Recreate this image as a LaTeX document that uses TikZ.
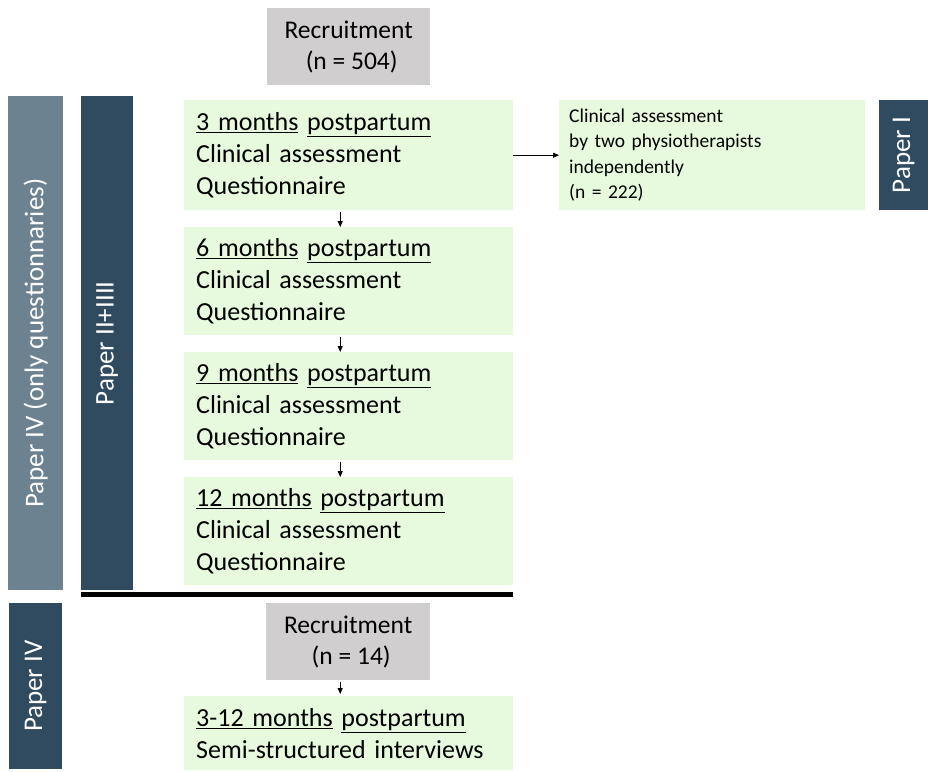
\documentclass[tikz,border=0pt]{standalone}
\usepackage{fontspec}
\setmainfont{Carlito}
\usetikzlibrary{arrows.meta}
\definecolor{grayb}{HTML}{D0CECE}
\definecolor{greenb}{HTML}{E8FADE}
\definecolor{darkb}{HTML}{304B5F}
\definecolor{slateb}{HTML}{6D8290}
\tikzset{
  recbox/.style={fill=grayb, draw=none, anchor=north west, align=center, inner sep=0pt, font=\fontsize{25.5}{31}\selectfont},
  greenbox/.style={fill=greenb, draw=none, anchor=north west, align=left, inner xsep=12pt, inner ysep=0pt, font=\fontsize{26}{32}\selectfont},
  smallbox/.style={fill=greenb, draw=none, anchor=north west, align=left, inner xsep=10pt, inner ysep=0pt, font=\fontsize{19.5}{25.3}\selectfont},
  bar/.style={draw=none, anchor=north west, inner sep=0pt},
  bartext/.style={text=white, rotate=90, font=\fontsize{27}{30}\selectfont},
  arr/.style={-{Triangle[length=6pt,width=5pt]}, line width=0.8pt},
}
\begin{document}
\begin{tikzpicture}[x=1pt,y=-1pt]
\useasboundingbox (0,0) rectangle (928,771);
% recruitment top
\node[recbox, minimum width=163pt, minimum height=77pt] (rec1) at (267,8) {Recruitment\\ \hspace{6pt}(n = 504)};
% left bars
\node[bar, fill=slateb, minimum width=55pt, minimum height=494pt] (bar1) at (8,96) {};
\node[bartext] at (bar1.center) {Paper IV (only questionnaries)};
\node[bar, fill=darkb, minimum width=52pt, minimum height=494pt] (bar2) at (81,96) {};
\node[bartext] at (bar2.center) {Paper II+IIII};
% green boxes
\node[greenbox, minimum width=329pt, minimum height=110pt, text width=305pt] (m3) at (184,100) {\underline{3 months} \underline{postpartum}\\ Clinical assessment\\ Questionnaire};
\node[greenbox, minimum width=329pt, minimum height=108pt, text width=305pt] (m6) at (184,227) {\underline{6 months} \underline{postpartum}\\ Clinical assessment\\ Questionnaire};
\node[greenbox, minimum width=329pt, minimum height=108pt, text width=305pt] (m9) at (184,352) {\underline{9 months} \underline{postpartum}\\ Clinical assessment\\ Questionnaire};
\node[greenbox, minimum width=329pt, minimum height=108pt, text width=305pt] (m12) at (184,477) {\underline{12 months} \underline{postpartum}\\ Clinical assessment\\ Questionnaire};
% right box
\node[smallbox, minimum width=306pt, minimum height=110pt, text width=286pt] (ca) at (559,100) {Clinical assessment\\ by two physiotherapists\\ independently\\ (n = 222)};
\node[bar, fill=darkb, minimum width=49pt, minimum height=110pt] (bar3) at (879,100) {};
\node[bartext] at (bar3.center) {Paper I};
% thick line
\coordinate (l1) at (81,594.5);
\coordinate (l2) at (513,594.5);
\draw[line width=5pt] (l1) -- (l2);
% bottom
\node[recbox, minimum width=164pt, minimum height=77pt] (rec2) at (266,603) {Recruitment\\ \hspace{6pt}(n = 14)};
\node[greenbox, minimum width=329pt, minimum height=74pt, text width=305pt] (int) at (184,696) {\underline{3-12 months} \underline{postpartum}\\ Semi-structured interviews};
\node[bar, fill=darkb, minimum width=53pt, minimum height=166pt] (bar4) at (9,603) {};
\node[bartext] at (bar4.center) {Paper IV};
% arrows
\draw[arr] (m3.east) -- (ca.west);
\draw[arr] ([xshift=-8.5pt,yshift=-2pt]m3.south) -- ([xshift=-8.5pt]m6.north);
\draw[arr] ([xshift=-8.5pt,yshift=-2pt]m6.south) -- ([xshift=-8.5pt]m9.north);
\draw[arr] ([xshift=-8.5pt,yshift=-2pt]m9.south) -- ([xshift=-8.5pt]m12.north);
\draw[arr] ([xshift=-8pt,yshift=-2pt]rec2.south) -- ([xshift=-8pt,yshift=2pt]rec2.south |- int.north);
\end{tikzpicture}
\end{document}
